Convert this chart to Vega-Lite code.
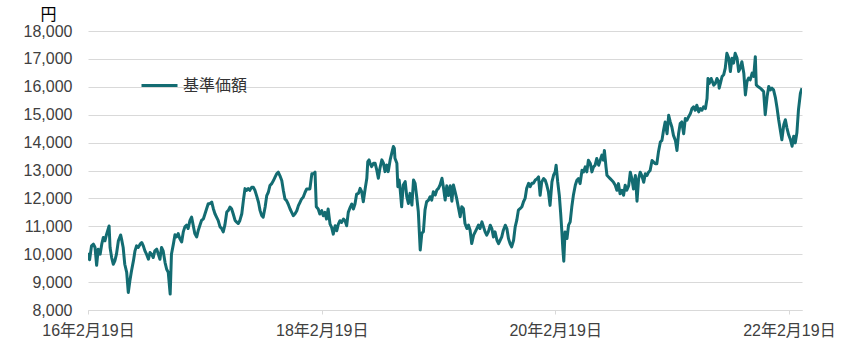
{
  "$schema": "https://vega.github.io/schema/vega-lite/v6.json",
  "width": 714,
  "height": 279,
  "autosize": {"type": "none"},
  "padding": {"left": 88, "top": 31, "right": 39, "bottom": 51},
  "background": "white",
  "config": {"view": {"stroke": null}, "font": "Liberation Sans, Noto Sans CJK JP"},
  "data": {"values": [
    {"d":"2016-02-19","v":10050},{"d":"2016-02-24","v":9800},{"d":"2016-03-01","v":10300},{"d":"2016-03-07","v":10360},{"d":"2016-03-12","v":10240},{"d":"2016-03-17","v":9600},{"d":"2016-03-22","v":10180},{"d":"2016-03-28","v":10000},{"d":"2016-04-02","v":10360},{"d":"2016-04-07","v":10600},{"d":"2016-04-12","v":10480},{"d":"2016-04-17","v":10710},{"d":"2016-04-25","v":11010},{"d":"2016-04-28","v":10240},{"d":"2016-05-03","v":9880},{"d":"2016-05-08","v":9640},{"d":"2016-05-13","v":9760},{"d":"2016-05-18","v":10000},{"d":"2016-05-24","v":10480},{"d":"2016-05-31","v":10690},{"d":"2016-06-03","v":10540},{"d":"2016-06-08","v":10240},{"d":"2016-06-13","v":9640},{"d":"2016-06-19","v":9350},{"d":"2016-06-24","v":8630},{"d":"2016-06-29","v":9050},{"d":"2016-07-04","v":9400},{"d":"2016-07-10","v":9760},{"d":"2016-07-15","v":10120},{"d":"2016-07-20","v":10300},{"d":"2016-07-25","v":10240},{"d":"2016-07-31","v":10360},{"d":"2016-08-05","v":10420},{"d":"2016-08-10","v":10300},{"d":"2016-08-15","v":10120},{"d":"2016-08-20","v":10000},{"d":"2016-08-26","v":9820},{"d":"2016-08-31","v":10060},{"d":"2016-09-05","v":10000},{"d":"2016-09-10","v":9880},{"d":"2016-09-15","v":10120},{"d":"2016-09-21","v":10180},{"d":"2016-09-26","v":10000},{"d":"2016-10-01","v":9820},{"d":"2016-10-06","v":10240},{"d":"2016-10-11","v":10120},{"d":"2016-10-17","v":9700},{"d":"2016-10-22","v":9460},{"d":"2016-10-27","v":9350},{"d":"2016-11-02","v":8570},{"d":"2016-11-06","v":10000},{"d":"2016-11-12","v":10360},
    {"d":"2016-11-17","v":10700},{"d":"2016-11-22","v":10620},{"d":"2016-11-27","v":10740},{"d":"2016-12-02","v":10560},{"d":"2016-12-08","v":10440},{"d":"2016-12-13","v":10800},{"d":"2016-12-18","v":10980},{"d":"2016-12-23","v":11040},{"d":"2016-12-28","v":10920},{"d":"2017-01-03","v":11210},{"d":"2017-01-08","v":11330},{"d":"2017-01-13","v":11040},{"d":"2017-01-18","v":10740},{"d":"2017-01-24","v":10620},{"d":"2017-01-29","v":10860},{"d":"2017-02-03","v":11040},{"d":"2017-02-08","v":11210},{"d":"2017-02-14","v":11270},{"d":"2017-02-19","v":11450},{"d":"2017-02-24","v":11630},{"d":"2017-03-01","v":11810},{"d":"2017-03-06","v":11810},{"d":"2017-03-12","v":11870},{"d":"2017-03-17","v":11630},{"d":"2017-03-22","v":11450},{"d":"2017-03-27","v":11330},{"d":"2017-04-01","v":11210},{"d":"2017-04-07","v":10980},{"d":"2017-04-12","v":10920},{"d":"2017-04-17","v":10800},{"d":"2017-04-22","v":11040},{"d":"2017-04-28","v":11510},{"d":"2017-05-03","v":11570},{"d":"2017-05-08","v":11690},{"d":"2017-05-13","v":11630},{"d":"2017-05-18","v":11450},{"d":"2017-05-24","v":11210},{"d":"2017-05-29","v":11150},{"d":"2017-06-03","v":11100},{"d":"2017-06-08","v":11210},{"d":"2017-06-14","v":11450},{"d":"2017-06-19","v":11930},{"d":"2017-06-24","v":12350},{"d":"2017-06-29","v":12290},{"d":"2017-07-04","v":12350},{"d":"2017-07-09","v":12290},{"d":"2017-07-15","v":12400},{"d":"2017-07-20","v":12400},{"d":"2017-07-25","v":12290},{"d":"2017-07-30","v":12110},{"d":"2017-08-05","v":11870},{"d":"2017-08-10","v":11570},{"d":"2017-08-15","v":11390},{"d":"2017-08-20","v":11330},{"d":"2017-08-26","v":11690},
    {"d":"2017-08-31","v":12100},{"d":"2017-09-05","v":12220},{"d":"2017-09-10","v":12460},{"d":"2017-09-15","v":12520},{"d":"2017-09-21","v":12640},{"d":"2017-09-26","v":12760},{"d":"2017-10-01","v":12880},{"d":"2017-10-06","v":12940},{"d":"2017-10-11","v":12820},{"d":"2017-10-17","v":12640},{"d":"2017-10-22","v":12280},{"d":"2017-10-27","v":11980},{"d":"2017-11-01","v":11920},{"d":"2017-11-06","v":11800},{"d":"2017-11-12","v":11620},{"d":"2017-11-17","v":11500},{"d":"2017-11-22","v":11380},{"d":"2017-11-27","v":11440},{"d":"2017-12-03","v":11560},{"d":"2017-12-08","v":11740},{"d":"2017-12-13","v":11860},{"d":"2017-12-18","v":11980},{"d":"2017-12-23","v":12040},{"d":"2017-12-29","v":12220},{"d":"2018-01-03","v":12340},{"d":"2018-01-08","v":12340},{"d":"2018-01-13","v":12340},{"d":"2018-01-19","v":12880},{"d":"2018-01-24","v":12880},{"d":"2018-01-29","v":12940},{"d":"2018-02-02","v":11700},{"d":"2018-02-08","v":11620},{"d":"2018-02-13","v":11440},{"d":"2018-02-19","v":11560},{"d":"2018-02-24","v":11380},{"d":"2018-03-01","v":11500},{"d":"2018-03-06","v":11260},{"d":"2018-03-11","v":11620},{"d":"2018-03-17","v":11080},{"d":"2018-03-22","v":10960},{"d":"2018-03-27","v":10720},{"d":"2018-04-02","v":11020},{"d":"2018-04-07","v":10840},{"d":"2018-04-12","v":11080},{"d":"2018-04-17","v":11200},{"d":"2018-04-22","v":11140},{"d":"2018-04-28","v":11260},{"d":"2018-05-03","v":11200},{"d":"2018-05-08","v":11020},{"d":"2018-05-13","v":11500},{"d":"2018-05-19","v":11680},{"d":"2018-05-24","v":11800},{"d":"2018-05-29","v":11620},{"d":"2018-06-03","v":11800},{"d":"2018-06-08","v":12150},
    {"d":"2018-06-14","v":12180},{"d":"2018-06-19","v":12360},{"d":"2018-06-24","v":12240},{"d":"2018-06-29","v":11880},{"d":"2018-07-05","v":12360},{"d":"2018-07-10","v":12720},{"d":"2018-07-13","v":13320},{"d":"2018-07-17","v":13380},{"d":"2018-07-20","v":13260},{"d":"2018-07-25","v":13140},{"d":"2018-07-31","v":13260},{"d":"2018-08-05","v":13260},{"d":"2018-08-10","v":13020},{"d":"2018-08-15","v":12720},{"d":"2018-08-20","v":13080},{"d":"2018-08-26","v":13380},{"d":"2018-08-31","v":13260},{"d":"2018-09-05","v":12960},{"d":"2018-09-10","v":13200},{"d":"2018-09-15","v":12960},{"d":"2018-09-21","v":13380},{"d":"2018-09-26","v":13620},{"d":"2018-10-01","v":13860},{"d":"2018-10-04","v":13800},{"d":"2018-10-06","v":13440},{"d":"2018-10-12","v":13260},{"d":"2018-10-15","v":12420},{"d":"2018-10-19","v":12660},{"d":"2018-10-22","v":12360},{"d":"2018-10-27","v":11700},{"d":"2018-11-01","v":12480},{"d":"2018-11-07","v":12600},{"d":"2018-11-12","v":12060},{"d":"2018-11-17","v":11820},{"d":"2018-11-22","v":12180},{"d":"2018-11-28","v":11760},{"d":"2018-12-03","v":12660},{"d":"2018-12-08","v":12540},{"d":"2018-12-13","v":12060},{"d":"2018-12-18","v":11530},{"d":"2018-12-24","v":10150},{"d":"2018-12-29","v":10750},{"d":"2019-01-03","v":10810},{"d":"2019-01-08","v":11590},{"d":"2019-01-13","v":11880},{"d":"2019-01-19","v":11940},{"d":"2019-01-24","v":12060},{"d":"2019-01-29","v":11940},{"d":"2019-02-03","v":12240},{"d":"2019-02-09","v":12120},{"d":"2019-02-14","v":12300},{"d":"2019-02-19","v":12360},{"d":"2019-02-24","v":12480},{"d":"2019-03-02","v":12720},{"d":"2019-03-07","v":12360},{"d":"2019-03-12","v":11940},{"d":"2019-03-17","v":12450},
    {"d":"2019-03-22","v":12100},{"d":"2019-03-28","v":12450},{"d":"2019-04-02","v":11900},{"d":"2019-04-07","v":12480},{"d":"2019-04-12","v":12240},{"d":"2019-04-17","v":12000},{"d":"2019-04-23","v":11640},{"d":"2019-04-28","v":11340},{"d":"2019-05-03","v":11700},{"d":"2019-05-08","v":11640},{"d":"2019-05-13","v":11100},{"d":"2019-05-19","v":10920},{"d":"2019-05-24","v":11040},{"d":"2019-05-29","v":10860},{"d":"2019-06-03","v":10380},{"d":"2019-06-09","v":10680},{"d":"2019-06-14","v":10800},{"d":"2019-06-19","v":10920},{"d":"2019-06-24","v":11040},{"d":"2019-06-29","v":10920},{"d":"2019-07-05","v":11160},{"d":"2019-07-10","v":10980},{"d":"2019-07-15","v":10800},{"d":"2019-07-20","v":10680},{"d":"2019-07-25","v":10800},{"d":"2019-07-31","v":11040},{"d":"2019-08-05","v":10920},{"d":"2019-08-10","v":10620},{"d":"2019-08-15","v":10800},{"d":"2019-08-21","v":10500},{"d":"2019-08-26","v":10380},{"d":"2019-08-31","v":10500},{"d":"2019-09-05","v":10620},{"d":"2019-09-10","v":10860},{"d":"2019-09-16","v":11040},{"d":"2019-09-21","v":10920},{"d":"2019-09-26","v":10560},{"d":"2019-10-01","v":10380},{"d":"2019-10-06","v":10260},{"d":"2019-10-12","v":10500},{"d":"2019-10-17","v":10980},{"d":"2019-10-22","v":11220},{"d":"2019-10-27","v":11580},{"d":"2019-11-02","v":11640},{"d":"2019-11-07","v":11700},{"d":"2019-11-12","v":11880},{"d":"2019-11-17","v":12000},{"d":"2019-11-22","v":12360},{"d":"2019-11-28","v":12540},{"d":"2019-12-03","v":12420},{"d":"2019-12-08","v":12540},{"d":"2019-12-13","v":12540},{"d":"2019-12-19","v":12660},{"d":"2019-12-24","v":12700},
    {"d":"2019-12-29","v":12770},{"d":"2020-01-03","v":12110},{"d":"2020-01-08","v":12590},{"d":"2020-01-14","v":12710},{"d":"2020-01-19","v":12650},{"d":"2020-01-24","v":12470},{"d":"2020-01-29","v":12230},{"d":"2020-02-03","v":11750},{"d":"2020-02-09","v":12590},{"d":"2020-02-14","v":12830},{"d":"2020-02-19","v":12950},{"d":"2020-02-22","v":13190},{"d":"2020-02-27","v":12590},{"d":"2020-03-03","v":12110},{"d":"2020-03-07","v":11510},{"d":"2020-03-11","v":10800},{"d":"2020-03-14","v":10200},{"d":"2020-03-17","v":9750},{"d":"2020-03-21","v":10800},{"d":"2020-03-27","v":10560},{"d":"2020-04-01","v":11040},{"d":"2020-04-06","v":11160},{"d":"2020-04-11","v":11690},{"d":"2020-04-16","v":12110},{"d":"2020-04-22","v":12470},{"d":"2020-04-27","v":12650},{"d":"2020-05-02","v":12710},{"d":"2020-05-07","v":12530},{"d":"2020-05-13","v":13010},{"d":"2020-05-18","v":12950},{"d":"2020-05-23","v":13130},{"d":"2020-05-28","v":12950},{"d":"2020-06-02","v":13370},{"d":"2020-06-08","v":13250},{"d":"2020-06-13","v":12950},{"d":"2020-06-18","v":13130},{"d":"2020-06-23","v":13190},{"d":"2020-06-28","v":13430},{"d":"2020-07-04","v":13190},{"d":"2020-07-09","v":13370},{"d":"2020-07-14","v":13550},{"d":"2020-07-19","v":13370},{"d":"2020-07-22","v":13720},{"d":"2020-07-27","v":13130},{"d":"2020-07-30","v":12830},{"d":"2020-08-04","v":12770},{"d":"2020-08-09","v":12710},{"d":"2020-08-14","v":12650},{"d":"2020-08-19","v":12590},{"d":"2020-08-25","v":12470},{"d":"2020-08-30","v":12290},{"d":"2020-09-04","v":12530},{"d":"2020-09-09","v":12170},{"d":"2020-09-15","v":12290},{"d":"2020-09-20","v":12110},{"d":"2020-09-25","v":12470},{"d":"2020-09-30","v":12290},
    {"d":"2020-10-06","v":12460},{"d":"2020-10-11","v":12940},{"d":"2020-10-16","v":12700},{"d":"2020-10-21","v":12340},{"d":"2020-10-27","v":12820},{"d":"2020-11-01","v":11900},{"d":"2020-11-06","v":12700},{"d":"2020-11-11","v":12940},{"d":"2020-11-16","v":12820},{"d":"2020-11-22","v":12580},{"d":"2020-11-27","v":12880},{"d":"2020-12-02","v":12820},{"d":"2020-12-07","v":12940},{"d":"2020-12-12","v":13000},{"d":"2020-12-18","v":13360},{"d":"2020-12-23","v":13300},{"d":"2020-12-28","v":13240},{"d":"2021-01-02","v":13240},{"d":"2021-01-07","v":13660},{"d":"2021-01-13","v":14020},{"d":"2021-01-18","v":14080},{"d":"2021-01-23","v":14440},{"d":"2021-01-28","v":14740},{"d":"2021-02-03","v":14320},{"d":"2021-02-08","v":14980},{"d":"2021-02-13","v":14740},{"d":"2021-02-18","v":14560},{"d":"2021-02-23","v":14260},{"d":"2021-03-01","v":14080},{"d":"2021-03-06","v":13720},{"d":"2021-03-11","v":14320},{"d":"2021-03-16","v":14680},{"d":"2021-03-21","v":14740},{"d":"2021-03-27","v":14320},{"d":"2021-04-01","v":14860},{"d":"2021-04-06","v":14800},{"d":"2021-04-11","v":14920},{"d":"2021-04-17","v":15040},{"d":"2021-04-22","v":15220},{"d":"2021-04-27","v":15280},{"d":"2021-05-02","v":15160},{"d":"2021-05-07","v":15340},{"d":"2021-05-13","v":15100},{"d":"2021-05-18","v":15220},{"d":"2021-05-23","v":15160},{"d":"2021-05-28","v":15280},{"d":"2021-06-03","v":15220},{"d":"2021-06-08","v":15580},{"d":"2021-06-11","v":16300},{"d":"2021-06-15","v":16120},{"d":"2021-06-21","v":16300},{"d":"2021-06-29","v":16060},{"d":"2021-07-04","v":16120},{"d":"2021-07-09","v":16300},
    {"d":"2021-07-14","v":16190},{"d":"2021-07-16","v":15950},{"d":"2021-07-20","v":16130},{"d":"2021-07-25","v":16370},{"d":"2021-07-30","v":16430},{"d":"2021-08-04","v":16670},{"d":"2021-08-09","v":17200},{"d":"2021-08-15","v":17020},{"d":"2021-08-20","v":16550},{"d":"2021-08-25","v":17020},{"d":"2021-08-30","v":16850},{"d":"2021-09-04","v":17200},{"d":"2021-09-10","v":17020},{"d":"2021-09-15","v":16550},{"d":"2021-09-20","v":16670},{"d":"2021-09-25","v":16900},{"d":"2021-10-01","v":16490},{"d":"2021-10-06","v":15710},{"d":"2021-10-11","v":16190},{"d":"2021-10-16","v":16310},{"d":"2021-10-21","v":16250},{"d":"2021-10-27","v":16490},{"d":"2021-11-01","v":16370},{"d":"2021-11-06","v":17080},{"d":"2021-11-09","v":16070},{"d":"2021-11-14","v":16010},{"d":"2021-11-22","v":15950},{"d":"2021-11-27","v":15890},{"d":"2021-12-02","v":15830},{"d":"2021-12-07","v":15000},{"d":"2021-12-13","v":15660},{"d":"2021-12-18","v":16010},{"d":"2021-12-23","v":15890},{"d":"2021-12-28","v":15950},{"d":"2022-01-02","v":15890},{"d":"2022-01-08","v":15600},{"d":"2022-01-13","v":15240},{"d":"2022-01-18","v":14820},{"d":"2022-01-23","v":14460},{"d":"2022-01-28","v":14100},{"d":"2022-02-03","v":14640},{"d":"2022-02-08","v":14820},{"d":"2022-02-13","v":14520},{"d":"2022-02-18","v":14290},{"d":"2022-02-24","v":14100},{"d":"2022-03-01","v":13870},{"d":"2022-03-06","v":14230},{"d":"2022-03-11","v":13990},{"d":"2022-03-16","v":14350},{"d":"2022-03-21","v":15180},{"d":"2022-03-27","v":15770},{"d":"2022-04-01","v":15950}
  ]},
  "mark": {"type": "line", "strokeWidth": 3, "strokeJoin": "round", "clip": true},
  "encoding": {
    "x": {
      "field": "d", "type": "temporal",
      "scale": {"type": "utc"},
      "axis": {
        "title": null, "grid": false,
        "values": [{"year": 2016, "month": 2, "date": 19, "utc": true}, {"year": 2018, "month": 2, "date": 19, "utc": true}, {"year": 2020, "month": 2, "date": 19, "utc": true}, {"year": 2022, "month": 2, "date": 19, "utc": true}],
        "labelExpr": "utcFormat(datum.value, '%y年%-m月%-d日')",
        "labelOverlap": false, "labelFlush": false,
        "domainColor": "#d9d9d9", "domainWidth": 1,
        "tickColor": "#d9d9d9", "tickSize": 4, "tickWidth": 1,
        "labelPadding": 8, "labelFontSize": 16, "labelColor": "#404040"
      }
    },
    "y": {
      "field": "v", "type": "quantitative",
      "scale": {"domain": [8000, 18000], "zero": false, "nice": false},
      "axis": {
        "title": "円", "titleAngle": 0, "titleX": -40, "titleY": -17,
        "titleAlign": "center", "titleBaseline": "middle",
        "titleFontSize": 16, "titleFontWeight": "normal", "titleColor": "#000000",
        "values": [8000, 9000, 10000, 11000, 12000, 13000, 14000, 15000, 16000, 17000, 18000],
        "format": ",.0f", "grid": true, "gridColor": "#d9d9d9", "gridWidth": 1,
        "domain": false, "ticks": false, "labelPadding": 16,
        "labelFontSize": 16, "labelColor": "#404040"
      }
    },
    "color": {
      "datum": "基準価額",
      "scale": {"range": ["#136c72"]},
      "legend": {
        "title": null, "orient": "none", "legendX": 52, "legendY": 35,
        "symbolType": "stroke", "symbolSize": 1296, "symbolStrokeWidth": 3,
        "labelFontSize": 16, "labelColor": "#333333", "labelOffset": 4, "padding": 0
      }
    }
  }
}
